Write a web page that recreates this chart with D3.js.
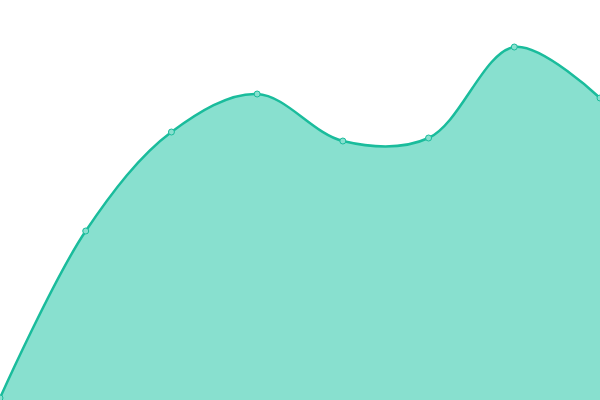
<!DOCTYPE html>
<html>
<head>
<meta charset="utf-8">
<script src="https://cdn.jsdelivr.net/npm/d3@7"></script>
<style>
  html, body { margin: 0; padding: 0; background: #fff; }
  svg { display: block; }
</style>
</head>
<body>
<svg id="chart" width="600" height="400"></svg>
<script>
// data
const categories = ["1", "2", "3", "4", "5", "6", "7", "8"];
const values = [2, 169, 268, 306, 259, 262, 353, 302];

const width = 600, height = 400;

const svg = d3.select("#chart");

const x = d3.scalePoint()
    .domain(categories)
    .range([0, width]);

const y = d3.scaleLinear()
    .domain([0, 400])
    .range([height, 0]);

const curve = d3.curveCatmullRom.alpha(0.5);

const area = d3.area()
    .x((d, i) => x(categories[i]))
    .y0(y(0))
    .y1(d => y(d))
    .curve(curve);

const line = d3.line()
    .x((d, i) => x(categories[i]))
    .y(d => y(d))
    .curve(curve);

svg.append("path")
    .datum(values)
    .attr("d", area)
    .attr("fill", "#88e0cf");

svg.append("path")
    .datum(values)
    .attr("d", line)
    .attr("fill", "none")
    .attr("stroke", "#1abc9c")
    .attr("stroke-width", 2.5);

svg.selectAll("circle.pt")
    .data(values)
    .join("circle")
    .attr("class", "pt")
    .attr("cx", (d, i) => x(categories[i]))
    .attr("cy", d => y(d))
    .attr("r", 3)
    .attr("fill", "#88e0cf")
    .attr("stroke", "#1abc9c")
    .attr("stroke-width", 1);
</script>
</body>
</html>
